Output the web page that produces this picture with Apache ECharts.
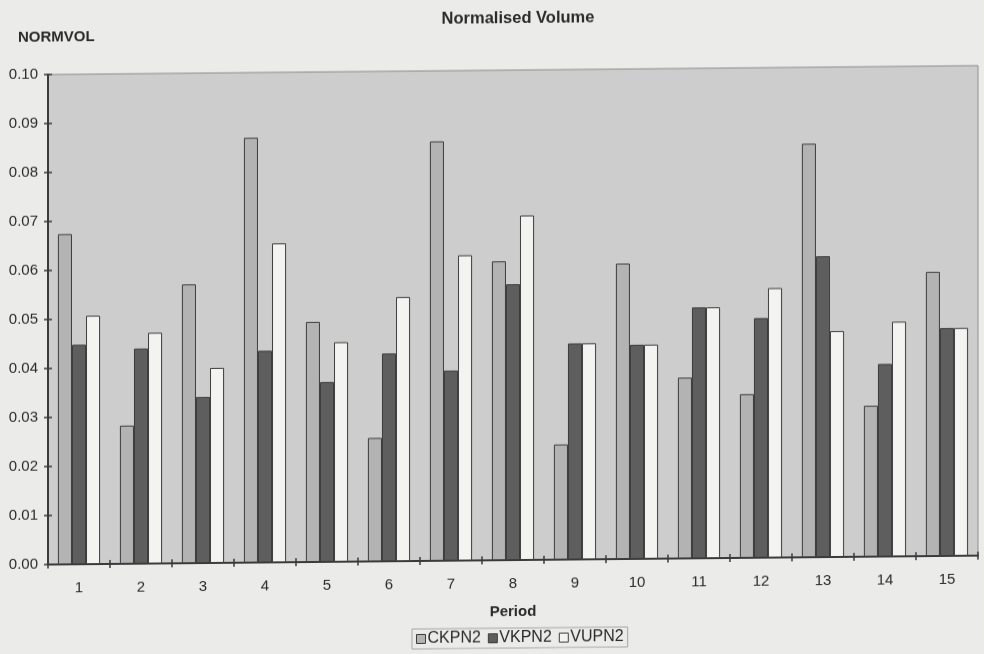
<!DOCTYPE html>
<html>
<head>
<meta charset="utf-8">
<title>Normalised Volume</title>
<script src="https://cdn.jsdelivr.net/npm/echarts@6/dist/echarts.min.js"></script>
<style>
  html, body { margin: 0; padding: 0; background: #ebebe9; }
  #chart {
    width: 984px;
    height: 654px;
    transform: skewY(-0.55deg);
    transform-origin: 0 0;
  }
</style>
</head>
<body>
<div id="chart"></div>
<script>
// Periods along the x axis
const categories = ['1', '2', '3', '4', '5', '6', '7', '8', '9', '10', '11', '12', '13', '14', '15'];

// Normalised volume per period
const ckpn2 = [0.0674, 0.0282, 0.0569, 0.0867, 0.0490, 0.0252, 0.0856, 0.0610, 0.0235, 0.0603, 0.0369, 0.0334, 0.0844, 0.0308, 0.0580];
const vkpn2 = [0.0448, 0.0439, 0.0339, 0.0432, 0.0367, 0.0424, 0.0388, 0.0563, 0.0441, 0.0437, 0.0512, 0.0489, 0.0614, 0.0393, 0.0465];
const vupn2 = [0.0507, 0.0471, 0.0398, 0.0651, 0.0448, 0.0539, 0.0623, 0.0703, 0.0441, 0.0437, 0.0512, 0.0550, 0.0461, 0.0479, 0.0465];

const seriesNames = ['CKPN2', 'VKPN2', 'VUPN2'];

// Value axis range
const yMin = 0;
const yMax = 0.10;
const yStep = 0.01;

const FONT = '"Liberation Sans", Arial, sans-serif';
const INK = '#2a2a2a';
const AXIS = '#3a3a3a';
const EDGE = '#3c3c3c';

const chart = echarts.init(document.getElementById('chart'), null, { renderer: 'canvas' });

const barStyle = (fill) => ({ color: fill, borderColor: EDGE, borderWidth: 1 });

chart.setOption({
  backgroundColor: '#ebebe9',
  animation: false,
  textStyle: { fontFamily: FONT, color: INK },
  title: [
    {
      text: 'Normalised Volume',
      left: 513, textAlign: 'center', top: 10,
      textStyle: { fontFamily: FONT, fontSize: 16.5, fontWeight: 'bold', color: INK }
    },
    {
      text: 'NORMVOL',
      left: 13, top: 25,
      textStyle: { fontFamily: FONT, fontSize: 15, fontWeight: 'bold', color: INK }
    }
  ],
  legend: {
    data: seriesNames,
    icon: 'rect',
    left: 412, top: 633,
    orient: 'horizontal',
    itemWidth: 9, itemHeight: 9,
    itemGap: 7,
    padding: [2, 4, 2, 4],
    borderColor: '#a6a6a6', borderWidth: 1,
    textStyle: { fontFamily: FONT, fontSize: 16, color: INK, padding: [0, 0, 0, -3] },
    itemStyle: { borderColor: EDGE, borderWidth: 1 }
  },
  grid: {
    left: 48, right: 6, top: 75, bottom: 89,
    show: true,
    backgroundColor: '#cdcdcd',
    borderColor: '#8c8c8c',
    borderWidth: 1
  },
  xAxis: [
    {
      type: 'category',
      data: categories,
      position: 'bottom',
      boundaryGap: true,
      name: 'Period',
      nameLocation: 'middle',
      nameGap: 44,
      nameTextStyle: { fontFamily: FONT, fontSize: 15, fontWeight: 'bold', color: INK },
      axisLine: { show: true, lineStyle: { color: AXIS, width: 2 } },
      axisTick: { show: true, length: 4, lineStyle: { color: AXIS, width: 1.5 } },
      axisLabel: { margin: 16, fontFamily: FONT, fontSize: 15, color: INK },
      splitLine: { show: false }
    },
    {
      // inward half of the crossing tick marks
      type: 'category',
      data: categories,
      position: 'bottom',
      boundaryGap: true,
      axisLine: { show: false },
      axisTick: { show: true, inside: true, length: 4, lineStyle: { color: AXIS, width: 1.5 } },
      axisLabel: { show: false },
      splitLine: { show: false }
    }
  ],
  yAxis: [
    {
      type: 'value',
      min: yMin, max: yMax, interval: yStep,
      position: 'left',
      axisLine: { show: true, lineStyle: { color: AXIS, width: 2 } },
      axisTick: { show: true, length: 4, lineStyle: { color: AXIS, width: 1.5 } },
      axisLabel: {
        margin: 10, fontFamily: FONT, fontSize: 15, color: INK,
        formatter: (v) => v.toFixed(2)
      },
      splitLine: { show: false }
    },
    {
      // inward half of the crossing tick marks
      type: 'value',
      min: yMin, max: yMax, interval: yStep,
      position: 'left',
      axisLine: { show: false },
      axisTick: { show: true, inside: true, length: 4, lineStyle: { color: AXIS, width: 1.5 } },
      axisLabel: { show: false },
      splitLine: { show: false }
    }
  ],
  series: [
    {
      name: seriesNames[0], type: 'bar', data: ckpn2,
      xAxisIndex: 0, yAxisIndex: 0,
      barGap: '0%', barCategoryGap: '32%',
      itemStyle: barStyle('#b3b3b3')
    },
    {
      name: seriesNames[1], type: 'bar', data: vkpn2,
      xAxisIndex: 0, yAxisIndex: 0,
      barGap: '0%', barCategoryGap: '32%',
      itemStyle: barStyle('#5e5e5e')
    },
    {
      name: seriesNames[2], type: 'bar', data: vupn2,
      xAxisIndex: 0, yAxisIndex: 0,
      barGap: '0%', barCategoryGap: '32%',
      itemStyle: barStyle('#f3f3f1')
    }
  ]
});
</script>
</body>
</html>
